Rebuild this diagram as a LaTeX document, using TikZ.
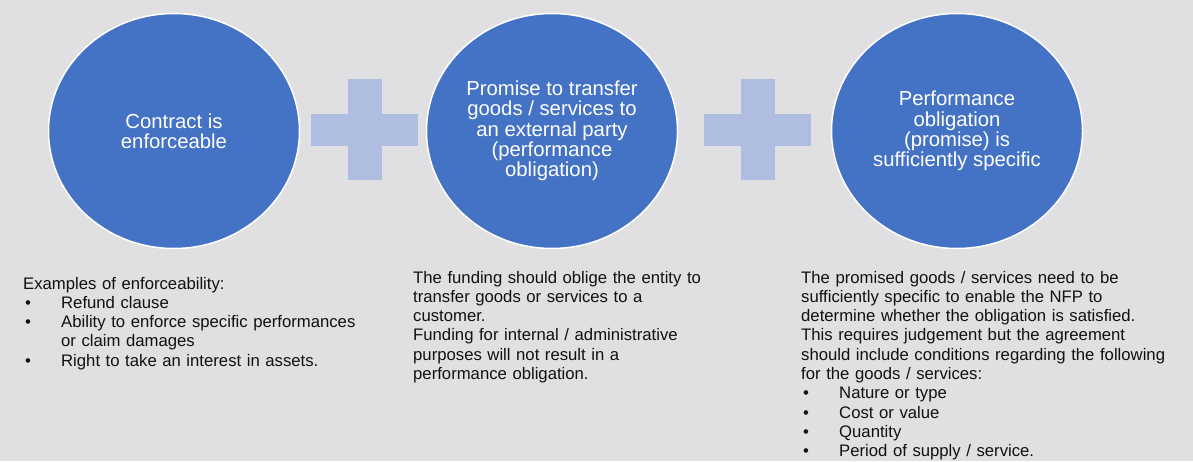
\documentclass[tikz,border=0pt]{standalone}
\usepackage{fontspec}
\setmainfont{Liberation Sans}
\usetikzlibrary{shapes.geometric}
\definecolor{bgc}{HTML}{E0DFE2}
\definecolor{circc}{HTML}{4472C4}
\definecolor{plusc}{HTML}{AFBEE0}
\definecolor{txtc}{HTML}{111111}
\tikzset{
  circ/.style={ellipse, fill=circc, draw=white, line width=1.5pt, minimum width=251pt, minimum height=235pt, inner sep=0pt,
    text=white, align=center, font=\fontsize{20.3}{20.3}\selectfont},
  body/.style={anchor=base west, inner sep=0pt, text width=#1, align=left, text=txtc,
    font=\fontsize{16.7}{19.3}\selectfont},
}
\newcommand{\bul}{\makebox[38pt][l]{\hspace{2pt}\textbullet}}
\newcommand{\plusshape}[2]{%
  \fill[plusc] (#1-53.5,#2-16) rectangle (#1+53.5,#2+16);
  \fill[plusc] (#1-17,#2-50.5) rectangle (#1+17,#2+50.5);}
\begin{document}
\begin{tikzpicture}[x=1pt,y=-1pt]
\useasboundingbox (0,0) rectangle (1193,461);
\fill[bgc] (0,0) rectangle (1193,461);

\node[circ] (c1) at (174,131) {Contract is\\enforceable};
\node[circ] (c2) at (552,131) {Promise to transfer\\goods / services to\\an external party\\(performance\\obligation)};
\node[circ] (c3) at (957,131) {Performance\\obligation\\(promise) is\\sufficiently specific};

\plusshape{364.5}{129.5}
\plusshape{757.5}{129.5}

\node[body=340pt] (t1) at (23,289) {Examples of enforceability:\\
\bul Refund clause\\
\bul Ability to enforce specific performances\\
\hspace*{38pt}or claim damages\\
\bul Right to take an interest in assets.};

\node[body=320pt] (t2) at (413,283) {The funding should oblige the entity to\\
transfer goods or services to a\\
customer.\\
Funding for internal / administrative\\
purposes will not result in a\\
performance obligation.};

\node[body=390pt] (t3) at (801,283) {The promised goods / services need to be\\
sufficiently specific to enable the NFP to\\
determine whether the obligation is satisfied.\\
This requires judgement but the agreement\\
should include conditions regarding the following\\
for the goods / services:\\
\bul Nature or type\\
\bul Cost or value\\
\bul Quantity\\
\bul Period of supply / service.};
\end{tikzpicture}
\end{document}
